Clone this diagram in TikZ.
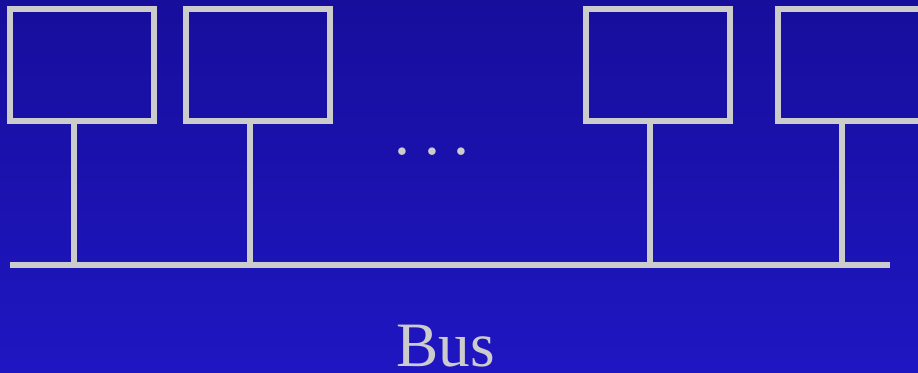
\documentclass[tikz,border=0pt]{standalone}
\usepackage{fontspec}
\setmainfont{Liberation Serif}
\usetikzlibrary{positioning}
\definecolor{bustop}{RGB}{23,14,156}
\definecolor{busbottom}{RGB}{31,22,194}
\definecolor{wire}{RGB}{204,204,204}

\begin{document}
\begin{tikzpicture}[
    x=0.02cm, y=-0.02cm,
    station/.style={draw=wire, line width=0.12cm, minimum width=2.88cm, minimum height=2.24cm, inner sep=0pt, outer sep=0pt},
    tap/.style={draw=wire, line width=0.12cm},
    buslabel/.style={text=wire, font=\fontsize{36}{40}\selectfont, inner sep=0pt}
]

\useasboundingbox (0,0) rectangle (918,372);
\clip (0,0) rectangle (918,372);
\shade[top color=bustop, bottom color=busbottom] (0,0) rectangle (918,372);

\node[station] (pc1) at (82,65) {};
\node[station, right=0.65cm of pc1] (pc2) {};
\node[station, right=5.11cm of pc2] (pc3) {};
\node[station, right=0.96cm of pc3] (pc4) {};

\coordinate (busL) at (10,265);
\coordinate (busR) at (890,265);
\draw[tap] (busL) -- (busR);

\foreach \n in {1,...,4}
  \draw[tap] ([xshift=-0.16cm]pc\n.south) -- ([xshift=-0.16cm]pc\n.south |- busL);

\node[buslabel, anchor=base] (dots) at (432,154) {.\ \kern-1.2pt.\ \kern-1.2pt.};
\node[buslabel, anchor=base] (busname) at (446,366) {Bus};

\end{tikzpicture}
\end{document}
